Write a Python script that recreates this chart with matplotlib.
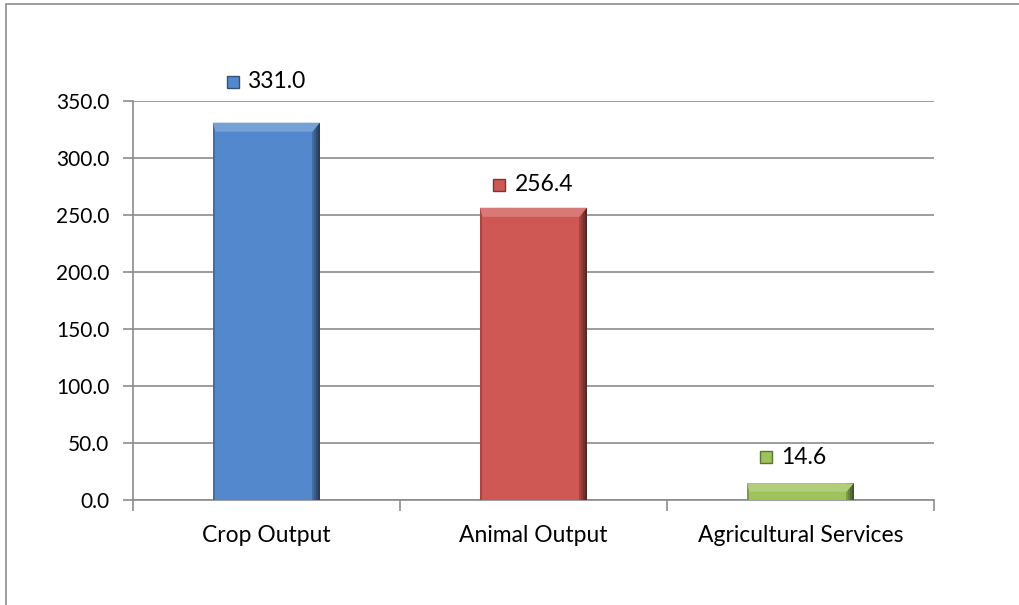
import numpy as np
import matplotlib.pyplot as plt
from matplotlib import patches, transforms
import matplotlib.colors as mcolors

categories = ["Crop Output", "Animal Output", "Agricultural Services"]
values = [331.0, 256.4, 14.6]
bar_colors = ["#5389CC", "#CF5855", "#9DC35A"]
yticks = [0, 50, 100, 150, 200, 250, 300, 350]
label_offsets = [41, 23, 26]   # pixels above bar top for the value labels

plt.rcParams['font.family'] = ['Lato', 'DejaVu Sans']


def shade(c, f):
    r, g, b = mcolors.to_rgb(c)
    if f < 1:
        return (r * f, g * f, b * f)
    return (r + (1 - r) * (f - 1), g + (1 - g) * (f - 1), b + (1 - b) * (f - 1))


def main():
    fig = plt.figure(figsize=(10.2, 6.05), dpi=100)
    # outer chart border
    fig.patches.append(patches.Rectangle((6 / 1020, -0.01), 1.1, 1 - 4 / 605 + 0.01,
                                         transform=fig.transFigure, fill=False,
                                         edgecolor="#8c8c8c", linewidth=1.2))
    ax = fig.add_axes([133 / 1020, 105 / 605, 801 / 1020, 399 / 605])

    x = np.arange(len(categories))
    bars = ax.bar(x, values, width=0.4, color=bar_colors, zorder=3)

    # fake bevel on each bar (dark right edge, light top)
    for b, c in zip(bars, bar_colors):
        bx, bw, bh = b.get_x(), b.get_width(), b.get_height()
        ex = bw * 0.07
        ey = min(bh * 0.5, 8.0)
        for k in range(4):
            f = 0.8 - 0.12 * k
            w = ex * (1 - k / 4)
            ax.add_patch(patches.Rectangle((bx + bw - w, 0), w, bh, color=shade(c, f), zorder=4, lw=0))
        ax.add_patch(patches.Rectangle((bx, 0), ex * 0.3, bh, color=shade(c, 0.8), zorder=4, lw=0))
        ax.add_patch(patches.Polygon([(bx, bh), (bx + bw, bh), (bx + bw - ex, bh - ey), (bx + ex * 0.3, bh - ey)],
                                     closed=True, color=shade(c, 1.2), zorder=5, lw=0))

    ax.set_ylim(0, 350)
    ax.set_xlim(-0.5, 2.5)
    ax.set_yticks(yticks)
    ax.set_yticklabels([f"{v:.1f}" for v in yticks], fontsize=15)
    ax.yaxis.grid(True, color="#8c8c8c", linewidth=1.2, zorder=0)
    ax.set_axisbelow(True)

    ax.set_xticks([-0.5, 0.5, 1.5, 2.5])
    ax.set_xticklabels([])
    ax.tick_params(axis='x', length=8, color="#8c8c8c", width=1.2)
    ax.tick_params(axis='y', length=7, color="#8c8c8c", width=1.2, pad=10)
    for i, name in enumerate(categories):
        ax.text(i, -31.5, name, ha='center', va='center', fontsize=16.5)

    for s in ['top', 'right']:
        ax.spines[s].set_visible(False)
    for s in ['left', 'bottom']:
        ax.spines[s].set_color("#8c8c8c")
        ax.spines[s].set_linewidth(1.2)

    for i, (v, c, off) in enumerate(zip(values, bar_colors, label_offsets)):
        tr_txt = transforms.offset_copy(ax.transData, fig=fig, x=-19, y=off, units='dots')
        ax.text(i, v, f"{v:.1f}", transform=tr_txt, ha='left', va='center', fontsize=16.5)
        tr_m = transforms.offset_copy(ax.transData, fig=fig, x=-34, y=off, units='dots')
        ax.plot([i], [v], marker='s', markersize=9, color=c, markeredgecolor=shade(c, 0.6),
                transform=tr_m, clip_on=False, zorder=6)

    fig.savefig("out.png", dpi=100)


if __name__ == "__main__":
    main()
